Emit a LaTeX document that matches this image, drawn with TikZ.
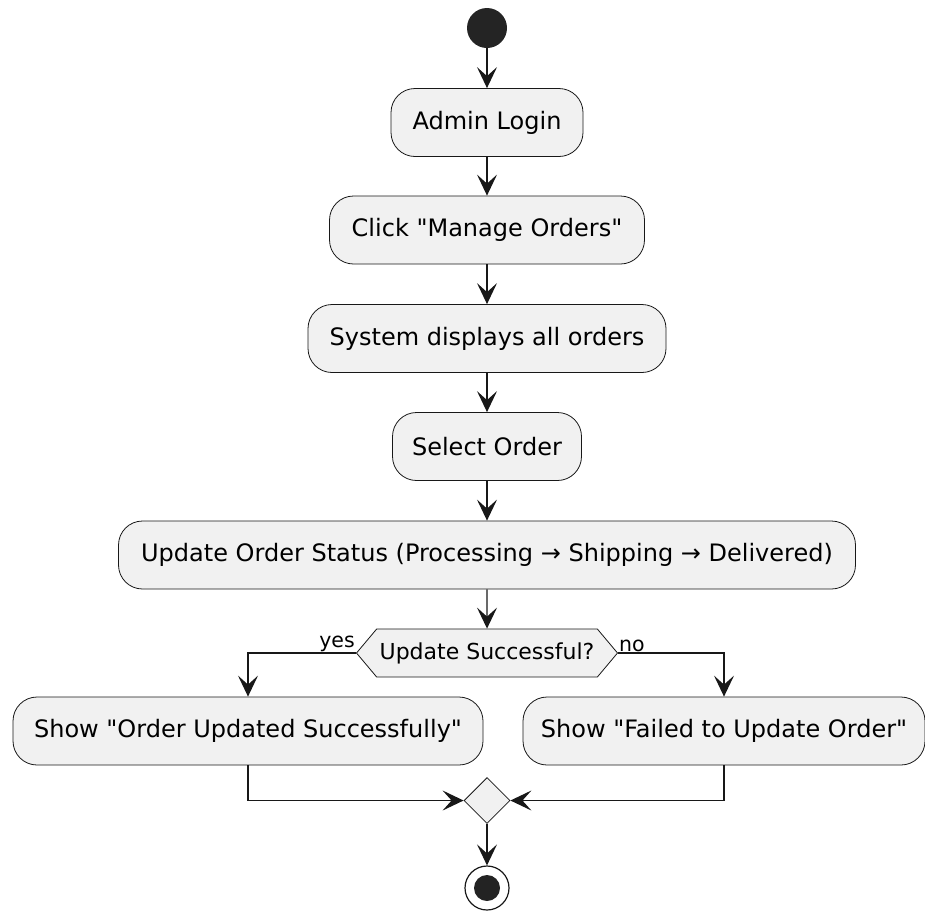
\documentclass[tikz,border=0pt]{standalone}
\usepackage{fontspec}
\setmainfont{DejaVu Sans}
\usetikzlibrary{arrows.meta,shapes.geometric,shapes.symbols}
\definecolor{nen}{HTML}{F1F1F1}
\definecolor{vien}{HTML}{181818}
\newcommand{\ngoac}{\textquotedbl}
\tikzset{
	hop/.style={draw=vien,line width=0.8pt,fill=nen,rounded corners=24pt,minimum height=68pt,inner sep=0pt,font=\fontsize{24}{28}\selectfont},
	mui/.style={line width=1.4pt,draw=vien,-{Stealth[length=21pt,width=20pt,inset=9pt]}},
	nhan/.style={font=\fontsize{20.5}{24}\selectfont,inner sep=1pt}
}
\begin{document}
\begin{tikzpicture}[x=1pt,y=-1pt]
				\useasboundingbox (0,0) rectangle (925,911);
				\node[circle,fill=vien!95,minimum size=40pt,inner sep=0pt] (start) at (487,28) {};
				\node[hop,minimum width=192pt] (login) at (487,122.5) {Admin Login};
				\node[hop,minimum width=315pt] (manage) at (487,230) {Click \ngoac Manage Orders\ngoac};
				\node[hop,minimum width=358pt] (display) at (487,338.5) {System displays all orders};
				\node[hop,minimum width=189pt] (select) at (487,446.5) {Select Order};
				\node[hop,minimum width=737pt] (update) at (487,555) {Update Order Status (Processing → Shipping → Delivered)};
				\node[shape=signal,signal to=west and east,signal pointer angle=100,draw=vien,line width=0.8pt,fill=nen,minimum width=261pt,minimum height=48pt,inner sep=0pt,font=\fontsize{22}{26}\selectfont] (dec) at (487,653) {Update Successful?};
				\node[hop,minimum width=470pt] (okmsg) at (248,731) {Show \ngoac Order Updated Successfully\ngoac};
				\node[hop,minimum width=402pt] (failmsg) at (724,731) {Show \ngoac Failed to Update Order\ngoac};
				\node[diamond,aspect=1,draw=vien,line width=0.8pt,fill=nen,minimum size=46pt,inner sep=0pt] (merge) at (487,800.5) {};
				\node[circle,draw=vien,line width=1.2pt,minimum size=44pt,inner sep=0pt] (stop) at (487,888) {};
				\fill[vien!95] (stop) circle (13pt);
				\foreach \tu/\den in {start/login,login/manage,manage/display,display/select,select/update,update/dec,merge/stop}
				\draw[mui] (\tu) -- (\den);
				\draw[mui] (dec.west) -| (okmsg);
				\draw[mui] (dec.east) -| (failmsg);
				\draw[mui] (okmsg.south) |- (merge);
				\draw[mui] (failmsg.south) |- (merge);
				\node[nhan,anchor=south east] at (dec.west) {yes};
				\node[nhan,anchor=south west] at (dec.east) {no};
			\end{tikzpicture}
\end{document}
